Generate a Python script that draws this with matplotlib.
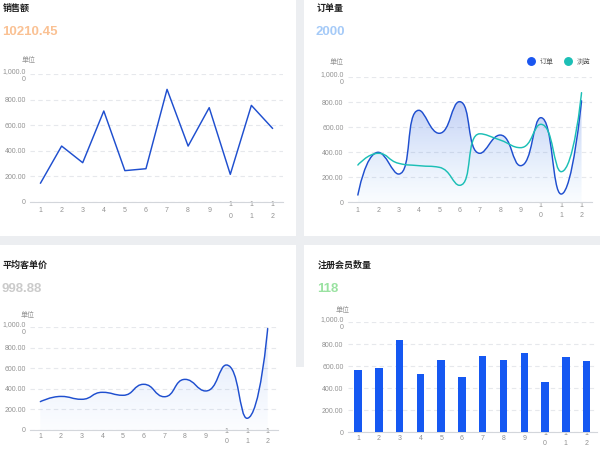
import numpy as np
import matplotlib
matplotlib.use("Agg")
import matplotlib.pyplot as plt
from matplotlib.patches import Rectangle, PathPatch
from matplotlib.path import Path
from matplotlib.lines import Line2D

plt.rcParams['font.family'] = ['Liberation Sans', 'Noto Sans CJK SC', 'DejaVu Sans']

# ---------------- data ----------------
x_labels = ['1', '2', '3', '4', '5', '6', '7', '8', '9', '1\n0', '1\n1', '1\n2']
y_ticks = [0, 200, 400, 600, 800, 1000]
y_tick_labels = ['0', '200.00', '400.00', '600.00', '800.00', '1,000.0\n0']

sales = [148, 437, 307, 711, 245, 260, 880, 437, 737, 216, 755, 576]
orders = [58, 400, 226, 736, 552, 805, 392, 538, 293, 677, 66, 812]
views = [298, 392, 312, 293, 280, 136, 548, 498, 437, 624, 245, 877]
avg_price = [276, 327, 299, 367, 338, 445, 324, 493, 380, 633, 114, 988]
members = [566, 585, 839, 530, 657, 503, 694, 654, 718, 457, 682, 648]

titles = ['销售额', '订单量', '平均客单价', '注册会员数量']
kpis = ['10210.45', '2000', '998.88', '118']
kpi_colors = ['#f8a766', '#7fb4f5', '#b5b5b5', '#6fd67a']
legend_labels = ['订单', '浏览']
unit_label = '单位'

W, H = 600, 449
BLUE = '#1f4fcf'
BAR = '#1558f2'
TEAL = '#1cbfb6'
GRID = '#e6e8ec'
TXT = '#929292'
FS = 5.0

fig = plt.figure(figsize=(W / 100, H / 100), dpi=100, facecolor='#eceef1')


def rect(x, y, w, h, color='white'):
    fig.add_artist(Rectangle((x / W, 1 - (y + h) / H), w / W, h / H,
                             transform=fig.transFigure, color=color, zorder=0, lw=0))


# cards
rect(0, 0, 296, 236)
rect(304, 0, 296, 236)
rect(0, 245, 296, 204)
rect(304, 245, 296, 204)
rect(296, 367, 8, 82)


def make_ax(x0, x1, ytop, ybot, pad_px, linesp):
    ax = fig.add_axes([x0 / W, 1 - ybot / H, (x1 - x0) / W, (ybot - ytop) / H])
    ax.set_facecolor('none')
    for s in ['top', 'right', 'left']:
        ax.spines[s].set_visible(False)
    ax.spines['bottom'].set_color('#d3d6db')
    ax.spines['bottom'].set_linewidth(0.8)
    ax.spines['bottom'].set_zorder(3)
    ax.set_xlim(-0.5, len(x_labels) - 0.5)
    ax.set_ylim(0, 1000)
    ax.set_yticks(y_ticks)
    ax.set_yticklabels(y_tick_labels, fontsize=FS, color=TXT)
    ax.set_xticks(range(len(x_labels)))
    ax.set_xticklabels(x_labels, fontsize=FS, color=TXT, linespacing=linesp)
    for lb in ax.get_xticklabels():
        lb.set_va('center')
    ax.tick_params(axis='x', length=0, pad=pad_px * 0.72)
    ax.tick_params(axis='y', length=0, pad=3)
    ax.yaxis.grid(True, color=GRID, lw=0.8, ls=(0, (4, 3)))
    ax.set_axisbelow(True)
    return ax


def smooth_path(yvals, sx, sy, smooth=0.5):
    n = len(yvals)
    P = np.column_stack([np.arange(n) * sx, np.asarray(yvals, float) * sy])
    verts = [P[0]]
    codes = [Path.MOVETO]
    cp0 = P[0].copy()
    for i in range(1, n):
        p = P[i]
        prev = P[i - 1]
        if i == n - 1:
            cp1 = p.copy()
            ncp0 = p.copy()
        else:
            nxt = P[i + 1]
            v = nxt - prev
            d0 = np.hypot(*(p - prev))
            d1 = np.hypot(*(nxt - p))
            r = d1 / (d0 + d1)
            ncp0 = p + v * smooth * r
            ncp0 = np.minimum(ncp0, np.maximum(nxt, p))
            ncp0 = np.maximum(ncp0, np.minimum(nxt, p))
            vv = ncp0 - p
            cp1 = p - vv * d0 / d1
            cp1 = np.minimum(cp1, np.maximum(prev, p))
            cp1 = np.maximum(cp1, np.minimum(prev, p))
            vv = p - cp1
            ncp0 = p + vv * d1 / d0
        verts += [cp0, cp1, p]
        codes += [Path.CURVE4] * 3
        cp0 = ncp0
    verts = np.array(verts)
    verts[:, 0] /= sx
    verts[:, 1] /= sy
    return verts, codes


def smooth_line(ax, yvals, color, sx, sy, fill=None):
    verts, codes = smooth_path(yvals, sx, sy)
    ax.add_patch(PathPatch(Path(verts, codes), facecolor='none', edgecolor=color,
                           lw=1.05, zorder=4, capstyle='round', joinstyle='round'))
    if fill is not None:
        top_rgba, bot_rgba, top_val = fill
        n = len(yvals)
        fv = np.vstack([verts, [[n - 1, 0], [0, 0], verts[0]]])
        fc = list(codes) + [Path.LINETO, Path.LINETO, Path.CLOSEPOLY]
        clip = PathPatch(Path(fv, fc), facecolor='none', edgecolor='none')
        ax.add_patch(clip)
        t = np.linspace(0, 1, 256)[:, None]
        top = np.array(top_rgba)
        bot = np.array(bot_rgba)
        grad = (bot[None, :] * (1 - t) + top[None, :] * t)[:, None, :]
        im = ax.imshow(grad, extent=[0, n - 1, 0, top_val], origin='lower',
                       aspect='auto', zorder=2, interpolation='bilinear')
        im.set_clip_path(clip)
        ax.set_xlim(-0.5, n - 0.5)
        ax.set_ylim(0, 1000)


def header(x, y, title, kpi, kcolor):
    fig.text(x / W, 1 - y / H, title, fontsize=6.5, fontweight='bold',
             color='#1f1f1f', va='center', ha='left')
    fig.text((x - 1) / W, 1 - (y + 24) / H, kpi, fontsize=9.5, fontweight='bold',
             color=kcolor, alpha=0.7, va='center', ha='left')


def unit(x, y):
    fig.text(x / W, 1 - y / H, unit_label, fontsize=FS, color=TXT, ha='center', va='center')


# ---- top-left: sales ----
header(3, 8, titles[0], kpis[0], kpi_colors[0])
unit(29, 60)
ax1 = make_ax(30, 283, 74, 202, 9, 2.0)
ax1.plot(range(len(sales)), sales, color=BLUE, lw=1.05, zorder=4)

# ---- top-right: orders/views ----
header(317, 8, titles[1], kpis[1], kpi_colors[1])
unit(337, 62)
ax2 = make_ax(347.7, 591.7, 77.3, 202.3, 8.4, 1.7)
sx2 = (591.7 - 347.7) / 12
sy2 = 125 / 1000
smooth_line(ax2, orders, BLUE, sx2, sy2,
            fill=((0.16, 0.32, 0.85, 0.28), (0.30, 0.62, 0.95, 0.03), max(orders)))
smooth_line(ax2, views, TEAL, sx2, sy2)
handles = [Line2D([], [], ls='none', marker='o', ms=5.4, color='#1a56f0'),
           Line2D([], [], ls='none', marker='o', ms=5.4, color=TEAL)]
ax2.legend(handles, legend_labels, loc='center right', bbox_to_anchor=(596 / W, 1 - 62 / H),
           bbox_transform=fig.transFigure, ncol=2, frameon=False, fontsize=5.0,
           handlelength=0.7, handletextpad=0.9, columnspacing=1.8, labelcolor='#555555',
           borderpad=0.2)

# ---- bottom-left: avg price ----
header(3, 265, titles[2], kpis[2], kpi_colors[2])
unit(28, 315)
ax3 = make_ax(30, 278, 327.3, 430, 6.7, 1.7)
sx3 = (278 - 30) / 12
sy3 = 102.7 / 1000
smooth_line(ax3, avg_price, BLUE, sx3, sy3,
            fill=((0.20, 0.40, 0.88, 0.16), (0.30, 0.55, 0.95, 0.02), max(avg_price)))

# ---- bottom-right: members ----
header(318, 265, titles[3], kpis[3], kpi_colors[3])
unit(343, 310)
ax4 = make_ax(347.7, 597, 322.3, 432.3, 6.0, 1.7)
ax4.bar(range(len(members)), members, width=0.36, color=BAR, zorder=4)

fig.savefig('out.png', dpi=100, facecolor=fig.get_facecolor())
